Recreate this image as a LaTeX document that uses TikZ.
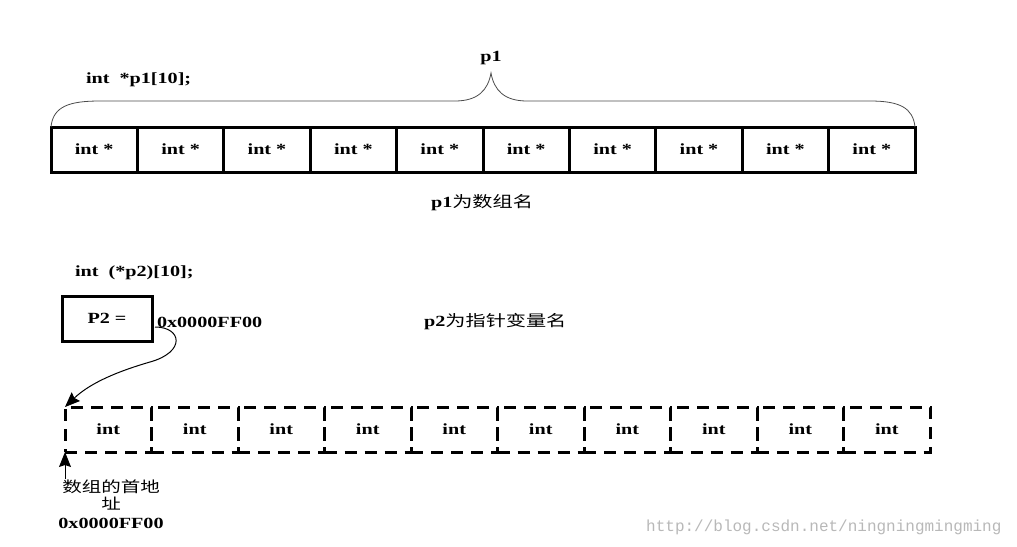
\documentclass[tikz,border=0pt]{standalone}
\usepackage{fontspec}
\setmainfont{Liberation Serif}[FakeStretch=1.3]
\newfontfamily\cjk{Noto Sans CJK SC}[FakeStretch=1.3]
\newfontfamily\wmfont{Liberation Mono}
\usetikzlibrary{arrows.meta,calc}
\tikzset{
  txt/.style={inner sep=0pt, outer sep=0pt, font=\fontsize{15.5}{17}\selectfont\bfseries},
  cjktxt/.style={inner sep=0pt, outer sep=0pt, font=\fontsize{15}{17}\selectfont},
  ptrcell/.style={draw, line width=3pt, minimum width=86.4pt, minimum height=45pt, inner sep=0pt, outer sep=0pt, font=\fontsize{15.5}{17}\selectfont\bfseries},
  intcell/.style={draw, line width=3pt, dash pattern=on 12pt off 8pt, minimum width=86.5pt, minimum height=45pt, inner sep=0pt, outer sep=0pt, font=\fontsize{15.5}{17}\selectfont\bfseries},
  bracestyle/.style={draw=black!70, line width=0.8pt},
  ptrarrow/.style={draw, line width=1pt, -{Stealth[length=15pt,width=12pt,inset=2pt]}},
}
\begin{document}
\begin{tikzpicture}[x=1pt,y=-1pt]
\useasboundingbox (0,0) rectangle (1017,546);
% top array
\foreach \i in {1,...,10} {
  \node[ptrcell] (c\i) at ({51+86.4*(\i-0.5)},149.5) {int *};
}
\node[txt, anchor=west] (decl1) at (86,80) {int\ \ *p1[10];};
\node[txt] (p1lbl) at (491,58) {p1};
\coordinate (tip) at (491,73);
\draw[bracestyle] (c1.north west) .. controls (53,106) and (70,101) .. (100,101) -- (455,101)
  .. controls (478,101) and (488,90) .. (tip)
  .. controls (494,90) and (504,101) .. (527,101) -- (870,101)
  .. controls (900,101) and (913,108) .. (c10.north east);
\node[anchor=center, inner sep=0pt] (p1name) at (482,203) {\fontsize{15.5}{17}\selectfont\bfseries p1\mdseries\cjk 为数组名};
% p2
\node[txt, anchor=west] (decl2) at (75,273) {int\ \ (*p2)[10];};
\node[draw, line width=3pt, minimum width=90pt, minimum height=45pt, inner sep=0pt, font=\fontsize{15.5}{17}\selectfont\bfseries] (p2box) at (107,318.5) {P2 =};
\node[txt, anchor=west] (addr1) at (157,322) {0x0000FF00};
\node[anchor=west, inner sep=0pt] (p2name) at (424,322) {\fontsize{15.5}{17}\selectfont\bfseries p2\mdseries\cjk 为指针变量名};
% bottom array
\foreach \i in {1,...,10} {
  \node[intcell] (b\i) at ({65+86.5*(\i-0.5)},429.5) {int};
}
\coordinate (ptrstart) at (155,327);
\draw[ptrarrow] (ptrstart) .. controls (182,327) and (186,352) .. (150,362)
  .. controls (112,373) and (88,385) .. (b1.north west);
\coordinate (upstart) at (65,479);
\draw[ptrarrow] (upstart) -- (b1.south west);
\node[cjktxt, align=center, anchor=north, font=\fontsize{15}{17}\selectfont\cjk] (firstaddr) at (111,480) {数组的首地\\址};
\node[txt] (addr2) at (111,523) {0x0000FF00};
\node[anchor=west, inner sep=0pt, text=black!28, font=\fontsize{16}{18}\selectfont\wmfont] (wm) at (646,527) {http://blog.csdn.net/ningningmingming};
\end{tikzpicture}
\end{document}
